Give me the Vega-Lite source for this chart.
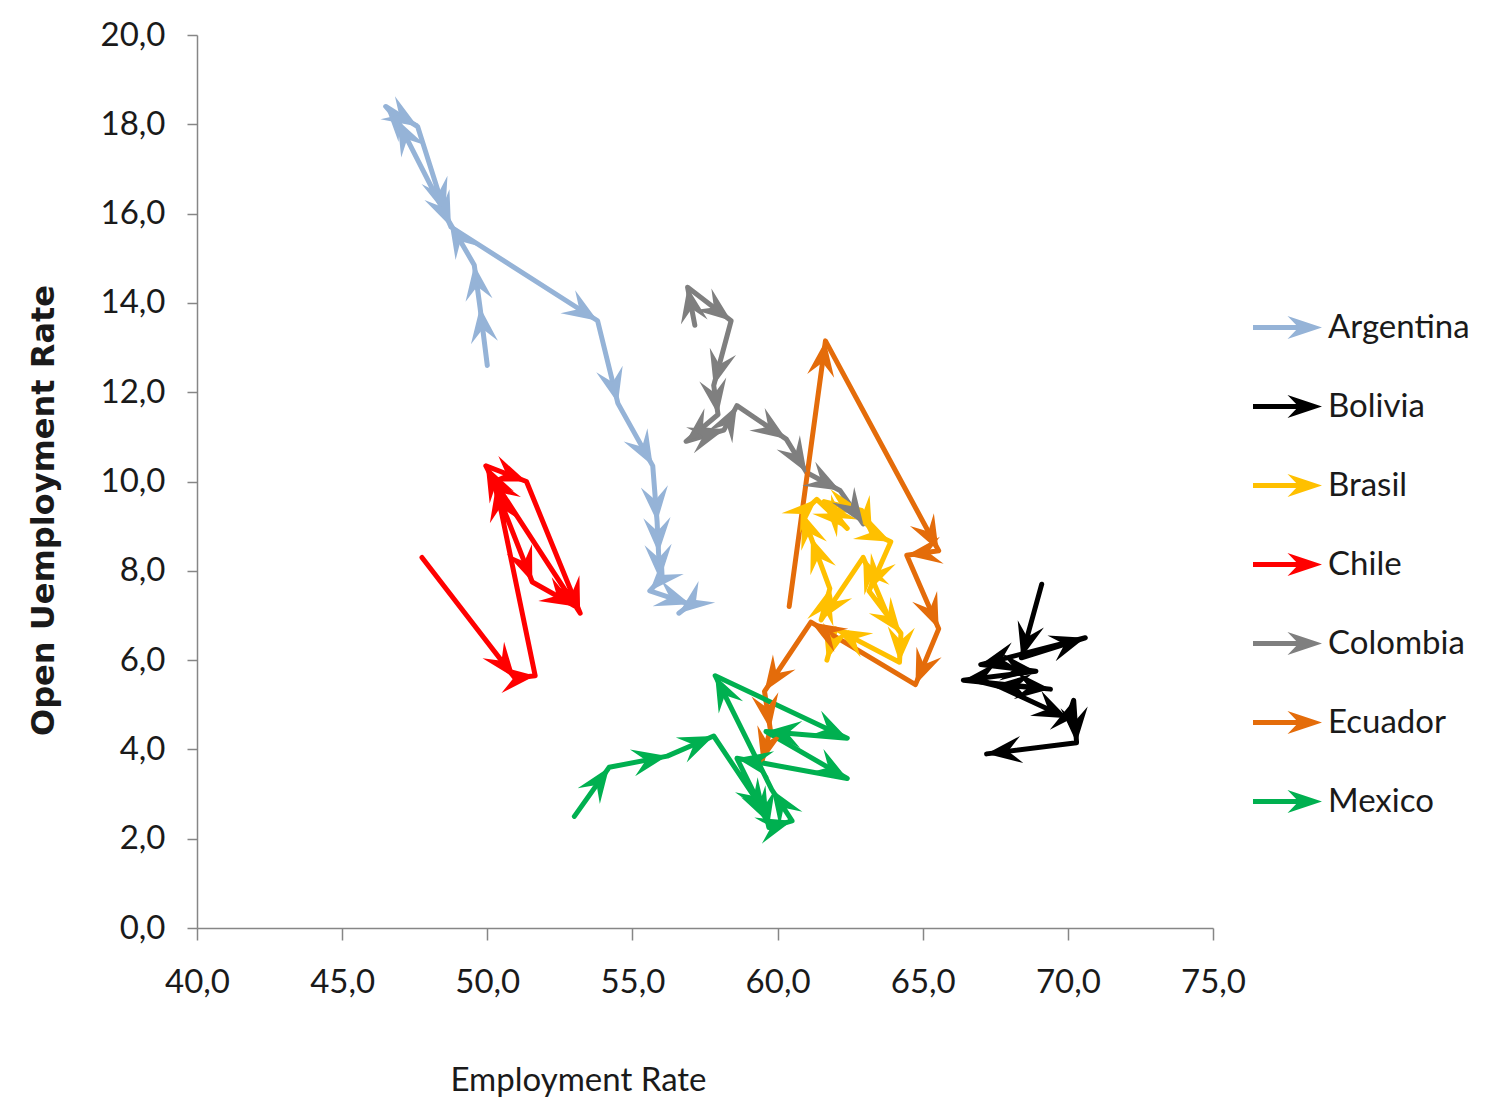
{
  "$schema": "https://vega.github.io/schema/vega-lite/v6.json",
  "width": 1016,
  "height": 893,
  "autosize": "none",
  "padding": {"left": 197, "top": 35, "right": 280, "bottom": 185},
  "background": "white",
  "config": {
    "locale": {"number": {"decimal": ",", "thousands": ".", "grouping": [3], "currency": ["", ""]}},
    "view": {"stroke": null}
  },
  "data": {
    "values": [
      {"country": "Argentina", "t": 1, "emp": 50.0, "unemp": 12.6},
      {"country": "Argentina", "t": 2, "emp": 49.75, "unemp": 13.9},
      {"country": "Argentina", "t": 3, "emp": 49.55, "unemp": 14.85},
      {"country": "Argentina", "t": 4, "emp": 48.7, "unemp": 15.8},
      {"country": "Argentina", "t": 5, "emp": 46.9, "unemp": 18.1},
      {"country": "Argentina", "t": 6, "emp": 46.5, "unemp": 18.4},
      {"country": "Argentina", "t": 7, "emp": 47.6, "unemp": 17.95},
      {"country": "Argentina", "t": 8, "emp": 48.55, "unemp": 16.0},
      {"country": "Argentina", "t": 9, "emp": 48.75, "unemp": 15.7},
      {"country": "Argentina", "t": 10, "emp": 53.8, "unemp": 13.6},
      {"country": "Argentina", "t": 11, "emp": 54.5, "unemp": 11.75},
      {"country": "Argentina", "t": 12, "emp": 55.7, "unemp": 10.35},
      {"country": "Argentina", "t": 13, "emp": 55.85, "unemp": 9.1},
      {"country": "Argentina", "t": 14, "emp": 55.9, "unemp": 8.4},
      {"country": "Argentina", "t": 15, "emp": 55.95, "unemp": 7.8},
      {"country": "Argentina", "t": 16, "emp": 55.6, "unemp": 7.55},
      {"country": "Argentina", "t": 17, "emp": 57.0, "unemp": 7.25},
      {"country": "Argentina", "t": 18, "emp": 56.6, "unemp": 7.05},

      {"country": "Bolivia", "t": 1, "emp": 69.1, "unemp": 7.7},
      {"country": "Bolivia", "t": 2, "emp": 68.4, "unemp": 6.05},
      {"country": "Bolivia", "t": 3, "emp": 70.6, "unemp": 6.5},
      {"country": "Bolivia", "t": 4, "emp": 67.0, "unemp": 5.9},
      {"country": "Bolivia", "t": 5, "emp": 68.9, "unemp": 5.75},
      {"country": "Bolivia", "t": 6, "emp": 66.4, "unemp": 5.55},
      {"country": "Bolivia", "t": 7, "emp": 69.4, "unemp": 5.35},
      {"country": "Bolivia", "t": 8, "emp": 67.5, "unemp": 5.45},
      {"country": "Bolivia", "t": 9, "emp": 70.0, "unemp": 4.7},
      {"country": "Bolivia", "t": 10, "emp": 70.2, "unemp": 5.1},
      {"country": "Bolivia", "t": 11, "emp": 70.3, "unemp": 4.15},
      {"country": "Bolivia", "t": 12, "emp": 67.2, "unemp": 3.9},

      {"country": "Brasil", "t": 1, "emp": 63.76, "unemp": 7.05},
      {"country": "Brasil", "t": 2, "emp": 62.95, "unemp": 8.3},
      {"country": "Brasil", "t": 3, "emp": 61.5, "unemp": 6.9},
      {"country": "Brasil", "t": 4, "emp": 61.8, "unemp": 7.6},
      {"country": "Brasil", "t": 5, "emp": 61.15, "unemp": 8.75},
      {"country": "Brasil", "t": 6, "emp": 60.85, "unemp": 9.3},
      {"country": "Brasil", "t": 7, "emp": 61.35, "unemp": 9.6},
      {"country": "Brasil", "t": 8, "emp": 62.4, "unemp": 8.95},
      {"country": "Brasil", "t": 9, "emp": 61.6, "unemp": 9.55},
      {"country": "Brasil", "t": 10, "emp": 62.9, "unemp": 9.35},
      {"country": "Brasil", "t": 11, "emp": 63.25, "unemp": 8.85},
      {"country": "Brasil", "t": 12, "emp": 63.9, "unemp": 8.65},
      {"country": "Brasil", "t": 13, "emp": 63.15, "unemp": 7.55},
      {"country": "Brasil", "t": 14, "emp": 64.25, "unemp": 6.6},
      {"country": "Brasil", "t": 15, "emp": 64.2, "unemp": 5.95},
      {"country": "Brasil", "t": 16, "emp": 62.0, "unemp": 6.7},
      {"country": "Brasil", "t": 17, "emp": 61.7, "unemp": 6.0},

      {"country": "Chile", "t": 1, "emp": 47.75, "unemp": 8.3},
      {"country": "Chile", "t": 2, "emp": 50.95, "unemp": 5.6},
      {"country": "Chile", "t": 3, "emp": 51.65, "unemp": 5.65},
      {"country": "Chile", "t": 4, "emp": 50.3, "unemp": 9.9},
      {"country": "Chile", "t": 5, "emp": 49.95, "unemp": 10.35},
      {"country": "Chile", "t": 6, "emp": 51.35, "unemp": 10.0},
      {"country": "Chile", "t": 7, "emp": 53.2, "unemp": 7.05},
      {"country": "Chile", "t": 8, "emp": 50.1, "unemp": 10.15},
      {"country": "Chile", "t": 9, "emp": 51.55, "unemp": 7.75},
      {"country": "Chile", "t": 10, "emp": 53.05, "unemp": 7.2},

      {"country": "Colombia", "t": 1, "emp": 57.15, "unemp": 13.5},
      {"country": "Colombia", "t": 2, "emp": 56.9, "unemp": 14.35},
      {"country": "Colombia", "t": 3, "emp": 58.4, "unemp": 13.6},
      {"country": "Colombia", "t": 4, "emp": 57.8, "unemp": 12.15},
      {"country": "Colombia", "t": 5, "emp": 57.95, "unemp": 11.5},
      {"country": "Colombia", "t": 6, "emp": 56.85, "unemp": 10.9},
      {"country": "Colombia", "t": 7, "emp": 58.15, "unemp": 11.15},
      {"country": "Colombia", "t": 8, "emp": 58.6, "unemp": 11.7},
      {"country": "Colombia", "t": 9, "emp": 60.3, "unemp": 10.95},
      {"country": "Colombia", "t": 10, "emp": 61.0, "unemp": 10.2},
      {"country": "Colombia", "t": 11, "emp": 62.15, "unemp": 9.8},
      {"country": "Colombia", "t": 12, "emp": 62.95, "unemp": 9.05},

      {"country": "Ecuador", "t": 1, "emp": 60.4, "unemp": 7.2},
      {"country": "Ecuador", "t": 2, "emp": 61.65, "unemp": 13.15},
      {"country": "Ecuador", "t": 3, "emp": 65.55, "unemp": 8.45},
      {"country": "Ecuador", "t": 4, "emp": 64.45, "unemp": 8.35},
      {"country": "Ecuador", "t": 5, "emp": 65.55, "unemp": 6.7},
      {"country": "Ecuador", "t": 6, "emp": 64.75, "unemp": 5.45},
      {"country": "Ecuador", "t": 7, "emp": 61.15, "unemp": 6.85},
      {"country": "Ecuador", "t": 8, "emp": 59.55, "unemp": 5.3},
      {"country": "Ecuador", "t": 9, "emp": 59.75, "unemp": 4.45},
      {"country": "Ecuador", "t": 10, "emp": 59.45, "unemp": 3.7},

      {"country": "Mexico", "t": 1, "emp": 53.0, "unemp": 2.5},
      {"country": "Mexico", "t": 2, "emp": 54.2, "unemp": 3.6},
      {"country": "Mexico", "t": 3, "emp": 56.2, "unemp": 3.85},
      {"country": "Mexico", "t": 4, "emp": 57.8, "unemp": 4.3},
      {"country": "Mexico", "t": 5, "emp": 59.6, "unemp": 2.55},
      {"country": "Mexico", "t": 6, "emp": 59.7, "unemp": 2.25},
      {"country": "Mexico", "t": 7, "emp": 60.5, "unemp": 2.4},
      {"country": "Mexico", "t": 8, "emp": 59.8, "unemp": 3.1},
      {"country": "Mexico", "t": 9, "emp": 57.85, "unemp": 5.65},
      {"country": "Mexico", "t": 10, "emp": 62.4, "unemp": 4.25},
      {"country": "Mexico", "t": 11, "emp": 59.6, "unemp": 4.4},
      {"country": "Mexico", "t": 12, "emp": 62.4, "unemp": 3.35},
      {"country": "Mexico", "t": 13, "emp": 58.6, "unemp": 3.8},
      {"country": "Mexico", "t": 14, "emp": 59.7, "unemp": 2.35}
    ]
  },
  "encoding": {
    "x": {
      "field": "emp", "type": "quantitative",
      "scale": {"domain": [40, 75], "nice": false, "zero": false},
      "axis": {
        "values": [40, 45, 50, 55, 60, 65, 70, 75],
        "format": ".1f", "grid": false,
        "domainColor": "#868686", "domainWidth": 1.5,
        "tickColor": "#868686", "tickWidth": 1.5, "tickSize": 12,
        "labelFont": "Lato", "labelFontSize": 33, "labelColor": "#1a1a1a",
        "labelPadding": 26, "labelFlush": false, "labelOverlap": false,
        "title": "Employment Rate",
        "titleFont": "Lato", "titleFontSize": 33, "titleFontWeight": "normal", "titleColor": "#1a1a1a",
        "titleX": 381, "titleY": 162, "titleAnchor": "middle", "titleAlign": "center", "titleBaseline": "alphabetic"
      }
    },
    "y": {
      "field": "unemp", "type": "quantitative",
      "scale": {"domain": [0, 20], "nice": false},
      "axis": {
        "values": [0, 2, 4, 6, 8, 10, 12, 14, 16, 18, 20],
        "format": ".1f", "grid": false,
        "domainColor": "#868686", "domainWidth": 1.5,
        "tickColor": "#868686", "tickWidth": 1.5, "tickSize": 10,
        "labelFont": "Lato", "labelFontSize": 33, "labelColor": "#1a1a1a",
        "labelPadding": 22, "labelFlush": false, "labelOverlap": false,
        "title": "Open Uemployment Rate",
        "titleFont": "DejaVu Sans", "titleFontSize": 32, "titleFontWeight": "bold", "titleColor": "#1a1a1a",
        "titleAngle": -90, "titleX": -144, "titleY": 475, "titleAnchor": "middle", "titleAlign": "center", "titleBaseline": "alphabetic"
      }
    }
  },
  "layer": [
    {
      "mark": {"type": "line", "strokeWidth": 5, "strokeCap": "round", "strokeJoin": "round"},
      "encoding": {
        "color": {
          "field": "country", "type": "nominal",
          "scale": {"domain": ["Argentina", "Bolivia", "Brasil", "Chile", "Colombia", "Ecuador", "Mexico"],
                    "range": ["#95B3D7", "#000000", "#FFC000", "#FF0000", "#7F7F7F", "#E46C0A", "#00B050"]},
          "legend": null
        },
        "order": {"field": "t", "type": "quantitative"}
      }
    },
    {
      "transform": [
        {"window": [{"op": "lag", "field": "emp", "as": "pemp"}, {"op": "lag", "field": "unemp", "as": "punemp"}],
         "groupby": ["country"], "sort": [{"field": "t", "order": "ascending"}]},
        {"filter": "datum.pemp != null"},
        {"calculate": "atan2((datum.emp - datum.pemp) * 1016 / 35, (datum.unemp - datum.punemp) * 893 / 20) * 180 / PI", "as": "dir"}
      ],
      "mark": {"type": "point", "shape": "M0,0L1,2.6L0,1.6L-1,2.6Z", "filled": true, "opacity": 1, "size": 740, "strokeWidth": 0},
      "encoding": {
        "color": {
          "field": "country", "type": "nominal",
          "scale": {"domain": ["Argentina", "Bolivia", "Brasil", "Chile", "Colombia", "Ecuador", "Mexico"],
                    "range": ["#95B3D7", "#000000", "#FFC000", "#FF0000", "#7F7F7F", "#E46C0A", "#00B050"]},
          "legend": {
            "orient": "none", "legendX": 1056, "legendY": 258, "title": null, "padding": 0,
            "symbolType": "M-1,-0.075L0.25,-0.075L0,-0.33L1,0L0,0.33L0.25,0.075L-1,0.075Z",
            "symbolSize": 4761, "symbolStrokeWidth": 0, "symbolOpacity": 1,
            "labelFont": "Lato", "labelFontSize": 33, "labelColor": "#1a1a1a",
            "labelOffset": 6, "rowPadding": 27
          }
        },
        "angle": {"field": "dir", "type": "quantitative", "scale": null}
      }
    }
  ],
  "resolve": {"legend": {"color": "independent"}}
}
